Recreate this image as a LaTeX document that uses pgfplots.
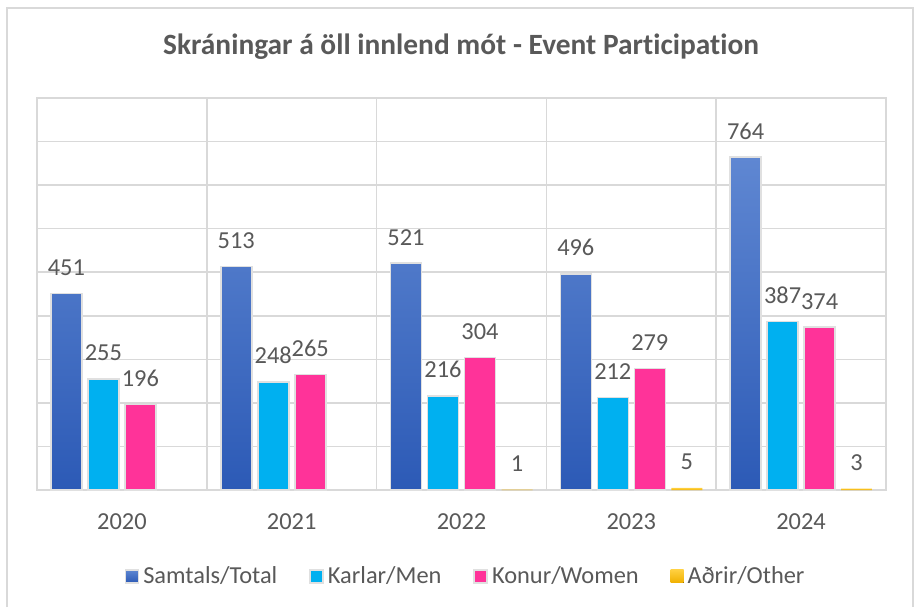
\documentclass[border=0pt]{standalone}
\usepackage{pgfplots}
\pgfplotsset{compat=1.18}
\usepackage{fontspec}
\setmainfont[Ligatures={NoCommon}]{Carlito}
\definecolor{txt}{HTML}{595959}
\definecolor{gridc}{HTML}{D9D9D9}
\definecolor{btop}{HTML}{5F87D2}
\definecolor{bbot}{HTML}{2C5AB6}
\definecolor{cyanb}{HTML}{00B0F0}
\definecolor{pinkb}{HTML}{FF3399}
\definecolor{ytop}{HTML}{FFD040}
\definecolor{ybot}{HTML}{F0B000}
\begin{document}
\begin{tikzpicture}
\path[use as bounding box] (0,0) rectangle (457.5pt,303.5pt);
\fill[white] (0,0) rectangle (457.5pt,303.5pt);
\draw[gridc,line width=0.75pt] (3.5pt,0) -- (3.5pt,299.5pt) -- (456.5pt,299.5pt) -- (456.5pt,0);
\node[text=txt,font=\fontsize{14.7}{17}\selectfont\bfseries] at (230.5pt,280pt) {Skráningar á öll innlend mót - Event Participation};
\begin{axis}[
  at={(18.5pt,58.5pt)}, anchor=south west,
  scale only axis, width=424.5pt, height=196pt,
  ymin=0, ymax=900, xmin=-0.5, xmax=4.5,
  ytick={0,100,...,900}, yticklabels={},
  ymajorgrids, major grid style={gridc,line width=0.75pt},
  xtick={0,1,2,3,4}, xticklabels={2020,2021,2022,2023,2024},
  minor xtick={0.5,1.5,2.5,3.5}, xminorgrids, minor grid style={gridc,line width=0.75pt},
  major tick length=0pt, minor tick length=0pt,
  axis line style={gridc,line width=0.75pt},
  ticklabel style={text=txt,font=\fontsize{12.2}{14}\selectfont},
  xticklabel style={yshift=-8.5pt},
  /pgf/number format/assume math mode=true,
  ybar=3pt, bar width=15.5pt,
  nodes near coords,
  every node near coord/.append style={text=txt,font=\fontsize{12.2}{14}\selectfont,anchor=base,yshift=9pt},
  legend columns=4,
  legend style={at={(0.506,-0.22)},anchor=center,draw=none,fill=none,
     font=\fontsize{12.2}{14}\selectfont,text=txt,
     /tikz/every even column/.append style={column sep=14pt}},
  legend image code/.code={\fill[#1] (0pt,-3.25pt) rectangle (6.5pt,3.25pt);},
]
\addplot[draw=black!12,line width=0.8pt,top color=btop,bottom color=bbot] coordinates {(0,451) (1,513) (2,521) (3,496) (4,764)};
\addplot[draw=black!12,line width=0.8pt,fill=cyanb] coordinates {(0,255) (1,248) (2,216) (3,212) (4,387)};
\addplot[draw=black!12,line width=0.8pt,fill=pinkb] coordinates {(0,196) (1,265) (2,304) (3,279) (4,374)};
\addplot[draw=none,top color=ytop,bottom color=ybot] coordinates {(2,1) (3,5) (4,3)};
\legend{Samtals/Total,Karlar/Men,Konur/Women,Aðrir/Other}
\end{axis}
\end{tikzpicture}
\end{document}
